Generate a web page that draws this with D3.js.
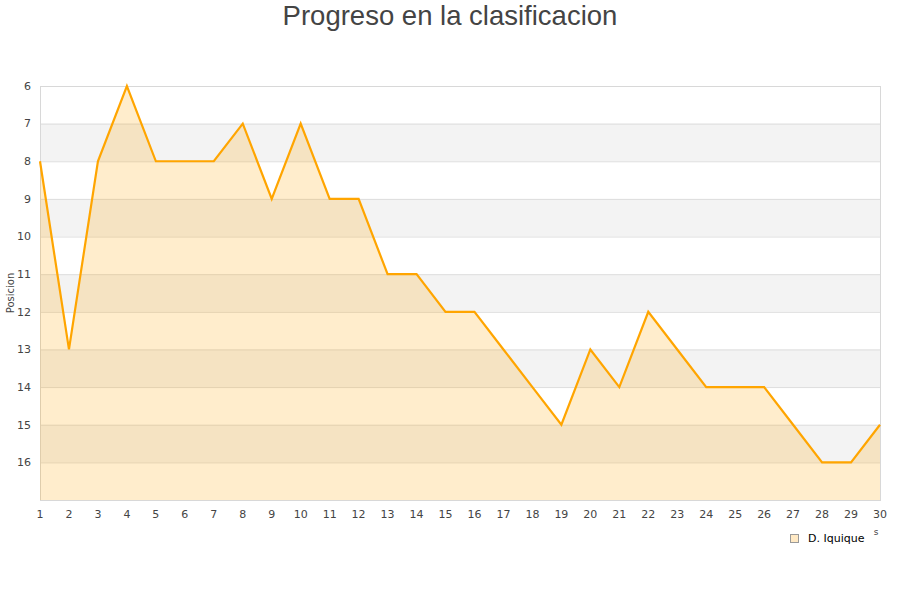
<!DOCTYPE html>
<html><head><meta charset="utf-8">
<script src="https://cdn.jsdelivr.net/npm/d3@7"></script>
<style>body{margin:0;background:#fff}svg{display:block}</style>
</head><body><svg id="c" width="900" height="600"></svg>
<script>
const rounds = [1,2,3,4,5,6,7,8,9,10,11,12,13,14,15,16,17,18,19,20,21,22,23,24,25,26,27,28,29,30];
const positions = [8,13,8,6,8,8,8,7,9,7,9,9,11,11,12,12,13,14,15,13,14,12,13,14,14,14,15,16,16,15];
const yTicks = [6,7,8,9,10,11,12,13,14,15,16];
const seriesName = "D. Iquique";
const title = "Progreso en la clasificacion";
const yTitle = "Posicion";

const svg = d3.select("#c");
const L=40,R=880,T=86,B=500;
const x = d3.scaleLinear().domain([1,30]).range([L,R]);
const y = d3.scaleLinear().domain([6,17]).range([T,B]);

// bands
const bandStarts = d3.range(6,17);
svg.selectAll("rect.band").data(bandStarts).enter().append("rect")
  .attr("x",L).attr("width",R-L)
  .attr("y",d=>y(d)).attr("height",d=>y(d+1)-y(d))
  .attr("fill",d=>(d%2===1)?"#f3f3f3":"#ffffff");
// grid
svg.selectAll("line.g").data(d3.range(6,18)).enter().append("line")
  .attr("x1",L).attr("x2",R).attr("y1",d=>y(d)+0.5).attr("y2",d=>y(d)+0.5)
  .attr("stroke","#dddddd");
svg.append("rect").attr("x",L+0.5).attr("y",T+0.5).attr("width",R-L).attr("height",B-T)
  .attr("fill","none").attr("stroke","#d8d8d8");

const data = rounds.map((r,i)=>({r,p:positions[i]}));
svg.append("path").datum(data)
  .attr("d",d3.area().x(d=>x(d.r)).y0(y(17)).y1(d=>y(d.p)))
  .attr("fill","#ffa500").attr("fill-opacity",0.2);
svg.append("path").datum(data)
  .attr("d",d3.line().x(d=>x(d.r)).y(d=>y(d.p)))
  .attr("fill","none").attr("stroke","#ffa500").attr("stroke-width",2.2);

// y ticks
svg.selectAll("text.yt").data(yTicks).enter().append("text")
  .attr("x",31).attr("y",d=>y(d)).attr("dy","0.35em").attr("text-anchor","end")
  .attr("font-family","DejaVu Sans").attr("font-size",11).attr("fill","#444")
  .text(d=>d);
// x ticks
svg.selectAll("text.xt").data(rounds).enter().append("text")
  .attr("x",d=>x(d)).attr("y",518).attr("text-anchor","middle")
  .attr("font-family","DejaVu Sans").attr("font-size",11).attr("fill","#444")
  .text(d=>d);

svg.append("text").attr("transform","translate(14,293) rotate(-90)")
  .attr("text-anchor","middle").attr("font-family","DejaVu Sans").attr("font-size",10)
  .attr("fill","#444").text(yTitle);

svg.append("text").attr("x",876).attr("y",535).attr("text-anchor","middle")
  .attr("font-family","DejaVu Sans").attr("font-size",9).attr("fill","#444").text("s");

svg.append("text").attr("x",450).attr("y",25).attr("text-anchor","middle")
  .attr("font-family","Liberation Sans").attr("font-size",27.5).attr("fill","#444").text(title);

// legend
svg.append("rect").attr("x",790.5).attr("y",534.5).attr("width",8).attr("height",8)
  .attr("fill","#ffe9c4").attr("stroke","#999");
svg.append("text").attr("x",808).attr("y",542).attr("font-family","DejaVu Sans")
  .attr("font-size",11).attr("fill","#000").text(seriesName);
</script></body></html>
